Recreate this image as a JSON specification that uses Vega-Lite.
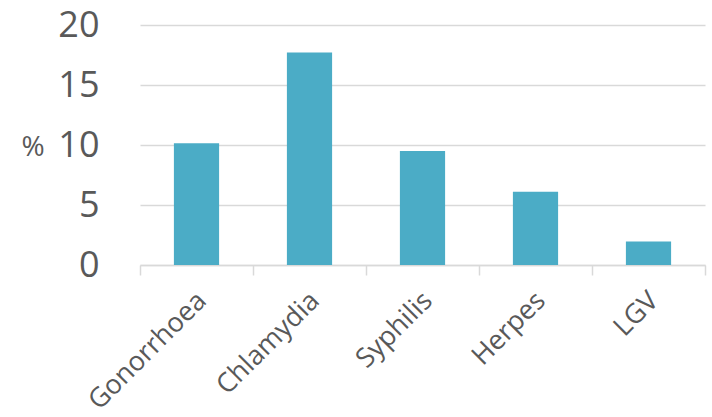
{
  "$schema": "https://vega.github.io/schema/vega-lite/v6.json",
  "autosize": "none",
  "width": 565,
  "height": 240,
  "padding": {"left": 140, "top": 25, "right": 7, "bottom": 152},
  "background": "white",
  "config": {"view": {"stroke": null}, "font": "Open Sans"},
  "data": {
    "values": [
      {"infection": "Gonorrhoea", "pct": 10.15},
      {"infection": "Chlamydia", "pct": 17.7},
      {"infection": "Syphilis", "pct": 9.5},
      {"infection": "Herpes", "pct": 6.1},
      {"infection": "LGV", "pct": 1.95}
    ]
  },
  "mark": {"type": "bar", "color": "#4BACC6", "width": {"band": 0.4}},
  "encoding": {
    "x": {
      "field": "infection",
      "type": "nominal",
      "sort": null,
      "scale": {"paddingInner": 0, "paddingOuter": 0},
      "axis": {
        "title": null,
        "labelAngle": -45,
        "labelFontSize": 27,
        "labelColor": "#595959",
        "labelPadding": 12,
        "labelOffset": -4,
        "tickSize": 10,
        "tickBand": "extent",
        "tickColor": "#d9d9d9",
        "tickWidth": 1.5,
        "domainColor": "#d9d9d9",
        "domainWidth": 1.5,
        "grid": false
      }
    },
    "y": {
      "field": "pct",
      "type": "quantitative",
      "scale": {"domain": [0, 20]},
      "axis": {
        "values": [0, 5, 10, 15, 20],
        "domain": false,
        "ticks": false,
        "tickSize": 0,
        "labelFontSize": 36,
        "labelColor": "#595959",
        "labelPadding": 41,
        "gridColor": "#d9d9d9",
        "gridWidth": 1.5,
        "title": "%",
        "titleAngle": 0,
        "titleFontSize": 28,
        "titleFontWeight": "normal",
        "titleColor": "#595959",
        "titleAlign": "left",
        "titleBaseline": "middle",
        "titleX": -119,
        "titleY": 122
      }
    }
  }
}
